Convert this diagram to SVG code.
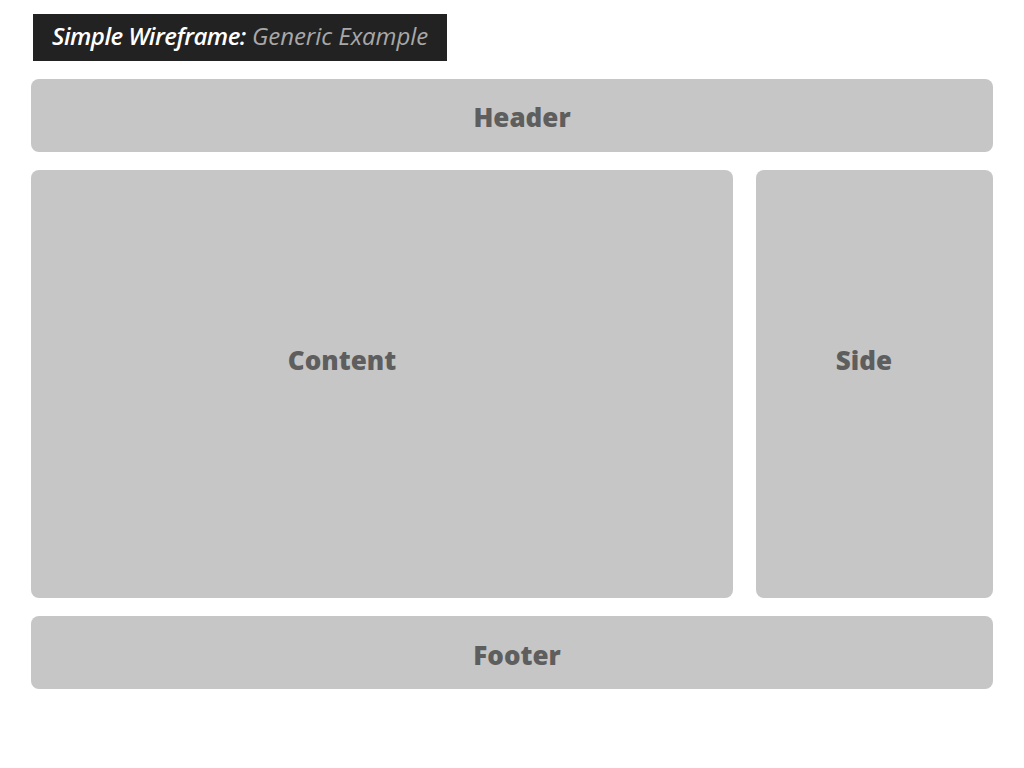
<svg xmlns="http://www.w3.org/2000/svg" width="1024" height="768" viewBox="0 0 1024 768">
<style>
.box{fill:#c6c6c6;}
.lbl{font-family:"Open Sans","Liberation Sans",sans-serif;font-weight:800;font-size:26px;fill:#5e5e5e;text-anchor:middle;}
.title{font-family:"Open Sans","Liberation Sans",sans-serif;font-style:italic;font-size:24px;}
</style>
<rect width="1024" height="768" fill="#ffffff"/>
<g id="title">
<rect x="33" y="14" width="414" height="47" fill="#222222"/>
<text class="title" x="52" y="45"><tspan fill="#ffffff" font-weight="600" letter-spacing="-0.5">Simple Wireframe:</tspan><tspan fill="#a8a8a8" font-weight="500" letter-spacing="-0.05"> Generic Example</tspan></text>
</g>
<g id="header">
<rect class="box" x="31" y="79" width="962" height="73" rx="8"/>
<text class="lbl" x="522" y="127">Header</text>
</g>
<g id="content">
<rect class="box" x="31" y="170" width="702" height="428" rx="8"/>
<text class="lbl" x="342" y="370">Content</text>
</g>
<g id="side">
<rect class="box" x="756" y="170" width="237" height="428" rx="8"/>
<text class="lbl" x="864" y="370">Side</text>
</g>
<g id="footer">
<rect class="box" x="31" y="616" width="962" height="73" rx="8"/>
<text class="lbl" x="517" y="665">Footer</text>
</g>
<g id="connectors"/>
</svg>
